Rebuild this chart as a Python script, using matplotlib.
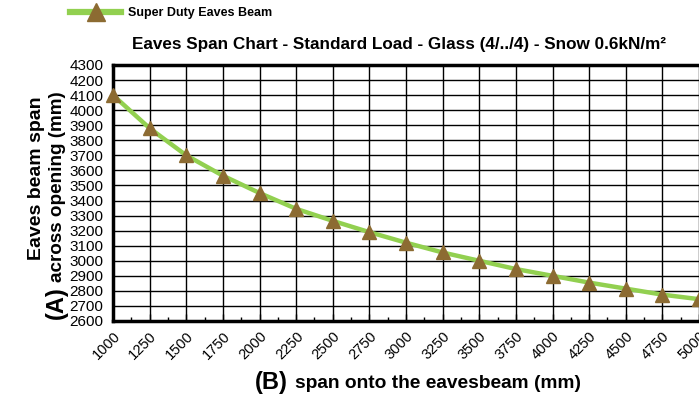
import matplotlib.pyplot as plt
from matplotlib.ticker import MultipleLocator

plt.rcParams['font.family'] = ['Liberation Sans', 'DejaVu Sans']

# eaves span data (mm)
spans_b = [1000, 1250, 1500, 1750, 2000, 2250, 2500, 2750, 3000,
           3250, 3500, 3750, 4000, 4250, 4500, 4750, 5000]
spans_a = [4100, 3880, 3700, 3565, 3450, 3345, 3265, 3190, 3120,
           3055, 3000, 2945, 2900, 2855, 2815, 2775, 2745]
series_name = "Super Duty Eaves Beam"

W, H = 699, 401
fig = plt.figure(figsize=(W / 100, H / 100), dpi=100)
ax = fig.add_axes([113 / W, 1 - 321 / H, 586 / W, 256 / H])

line, = ax.plot(spans_b, spans_a, color='#92d050', lw=3.2,
                marker='^', ms=10, mfc='#8c6b32', mec='#8c6b32', zorder=3,
                clip_on=False)

ax.set_xlim(1000, 5000)
ax.set_ylim(2600, 4300)
ax.set_xticks(spans_b)
ax.xaxis.set_minor_locator(MultipleLocator(125))
ax.yaxis.set_major_locator(MultipleLocator(100))
ax.grid(True, which='major', color='black', lw=1.0)
ax.tick_params(axis='y', length=0, labelsize=11, pad=7)
ax.tick_params(axis='x', which='major', direction='in', length=5, width=1,
               labelsize=10.5, pad=6)
ax.tick_params(axis='x', which='minor', direction='in', length=3, width=1)
for lbl in ax.get_xticklabels():
    lbl.set_rotation(45)
    lbl.set_ha('right')
    lbl.set_rotation_mode('anchor')

for side in ['left', 'bottom', 'top']:
    ax.spines[side].set_linewidth(2.5)
ax.spines['right'].set_visible(False)

fig.text(399 / W, 1 - 45 / H,
         "Eaves Span Chart - Standard Load - Glass (4/../4) - Snow 0.6kN/m²",
         ha='center', va='center', fontsize=12.3, fontweight='bold')

# legend drawn above the plot
legend_line, = ax.plot([], [], color='#92d050', lw=4.5, marker='^', ms=13,
                       mfc='#8c6b32', mec='#8c6b32')
fig.legend([legend_line], [series_name], loc='center left',
           bbox_to_anchor=(70 / W, 1 - 13 / H), frameon=False,
           prop={'size': 9, 'weight': 'bold'}, handlelength=4.1,
           handletextpad=0.55, borderaxespad=0, borderpad=0)

fig.text(466 / W, 1 + 8 / H, "A", ha='center', va='center',
         fontsize=16, fontweight='bold')

# y axis title, two lines
fig.text(37 / W, 1 - 178 / H, "Eaves beam span", rotation=90,
         ha='center', va='center', fontsize=14, fontweight='bold')
fig.text(56 / W, 1 - 319 / H, "(A)", rotation=90, rotation_mode='anchor',
         ha='left', va='center', fontsize=17, fontweight='bold')
fig.text(57 / W, 1 - 282 / H, "across opening (mm)", rotation=90,
         rotation_mode='anchor', ha='left', va='center', fontsize=13.6,
         fontweight='bold')

# x axis title
fig.text(255 / W, 1 - 382 / H, "(B)", ha='left', va='center',
         fontsize=17, fontweight='bold')
fig.text(295 / W, 1 - 383 / H, "span onto the eavesbeam (mm)", ha='left',
         va='center', fontsize=13.8, fontweight='bold')

fig.savefig('out.png', dpi=100)
